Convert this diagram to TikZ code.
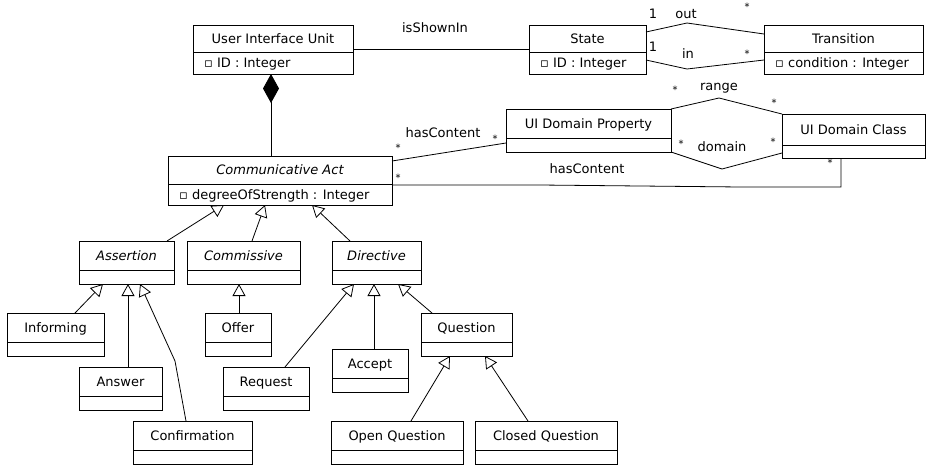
\documentclass[tikz,border=0pt]{standalone}
\usepackage{fontspec}
\setmainfont{DejaVu Sans}
\usetikzlibrary{arrows.meta}
\tikzset{
  line/.style={line width=0.8pt, draw=black},
  classbox/.style={line, rectangle, inner sep=0pt, outer sep=0pt, fill=white},
  ctitle/.style={inner sep=0pt, anchor=base, font=\fontsize{13}{15}\selectfont},
  cattr/.style={inner sep=0pt, anchor=base west, font=\fontsize{13}{15}\selectfont},
  lbl/.style={inner sep=0pt, font=\fontsize{13}{15}\selectfont, text height=9.5pt, text depth=0pt},
  mult/.style={inner sep=0pt, font=\fontsize{10}{12}\selectfont, yshift=-2pt},
  gen/.style={line, -{Triangle[open, length=12pt, width=13pt]}},
  assoc/.style={line},
  comp/.style={line, {Diamond[length=29pt, width=16pt]}-},
}
\newcommand\umlclass[7]{% name, left, top, right, bottom, divider, title
  \node[classbox, minimum width={#4-#2}, minimum height={#5-#3}, anchor=north west] (#1) at (#2,-#3) {};
  \draw[line] (#2,-#6) -- (#4,-#6);
  \node[ctitle] (#1-name) at ({(#2+#4)/2},{-(#3+#6)/2-4.5}) {#7};
}
\begin{document}
\begin{tikzpicture}[x=1pt, y=1pt]
\useasboundingbox (0,0) rectangle (930,-467);
% classes
\umlclass{uiu}{193}{25}{353}{74}{52}{User Interface Unit}
\umlclass{state}{529}{25}{646}{74}{52}{State}
\umlclass{trans}{764}{25}{923}{74}{52}{Transition}
\umlclass{ca}{168}{156}{392}{205}{184}{\itshape Communicative Act}
\umlclass{uidp}{506}{109}{671}{152}{138}{UI Domain Property}
\umlclass{uidc}{782}{114}{925}{158}{145}{UI Domain Class}
\umlclass{assertion}{79}{241}{174}{284}{270}{\itshape Assertion}
\umlclass{commissive}{187}{241}{300}{284}{270}{\itshape Commissive}
\umlclass{directive}{332}{241}{421}{284}{270}{\itshape Directive}
\umlclass{informing}{7}{313}{104}{356}{342}{Informing}
\umlclass{offer}{205}{313}{271}{356}{342}{Offer}
\umlclass{question}{421}{313}{512}{356}{342}{Question}
\umlclass{accept}{332}{349}{408}{392}{378}{Accept}
\umlclass{answer}{79}{367}{162}{410}{396}{Answer}
\umlclass{request}{223}{367}{309}{410}{396}{Request}
\umlclass{confirmation}{133}{421}{252}{464}{450}{Confirmation}
\umlclass{openq}{331}{421}{463}{464}{450}{Open Question}
\umlclass{closedq}{475}{421}{617}{464}{450}{Closed Question}
% attributes
\node[cattr] (uiu-attr) at (204,-67.5) {▫ ID : Integer};
\node[cattr] (state-attr) at (540,-67.5) {▫ ID : Integer};
\node[cattr] (trans-attr) at (775,-67.5) {▫ condition : Integer};
\node[cattr] (ca-attr) at (179,-199) {▫ degreeOfStrength : Integer};
% composition
\draw[comp] ([xshift=78pt]uiu.south west) -- ([xshift=103pt]ca.north west);
% associations
\draw[assoc] (uiu.east) -- (state.west);
\draw[assoc] ([yshift=-7pt]state.north east) -- (687,-23) -- ([yshift=-9pt]trans.north west);
\draw[assoc] ([yshift=-35pt]state.north east) -- (687,-69) -- ([yshift=-35pt]trans.north west);
\draw[assoc] ([yshift=-5pt]ca.north east) -- ([yshift=-34pt]uidp.north west);
\draw[assoc] ([yshift=-29pt]ca.north east) -- (540,-185) -- (741,-187) -- (841,-187) -- ([xshift=59pt]uidc.south west);
\draw[assoc] (uidp.north east) -- (719,-98) -- (uidc.north west);
\draw[assoc] (uidp.south east) -- (722,-169) -- ([yshift=5pt]uidc.south west);
% association labels
\node[lbl] (l-shown) at (435,-28) {isShownIn};
\node[lbl] (m-out1) at (653,-14) {1};
\node[lbl] (l-out) at (686,-14) {out};
\node[mult] (m-out2) at (747,-5) {*};
\node[lbl] (m-in1) at (653,-47) {1};
\node[lbl] (l-in) at (688,-54) {in};
\node[mult] (m-in2) at (747,-52) {*};
\node[lbl] (l-hc1) at (443,-133) {hasContent};
\node[mult] (m-hc1a) at (398,-146) {*};
\node[mult] (m-hc1b) at (495,-137) {*};
\node[lbl] (l-hc2) at (587,-169) {hasContent};
\node[mult] (m-hc2a) at (398,-176) {*};
\node[mult] (m-hc2b) at (830,-161) {*};
\node[lbl] (l-range) at (719,-86) {range};
\node[mult] (m-ra) at (675,-88) {*};
\node[mult] (m-rb) at (774,-101) {*};
\node[lbl] (l-domain) at (722,-147) {domain};
\node[mult] (m-da) at (681,-142) {*};
\node[mult] (m-db) at (773,-140) {*};
% generalizations
\draw[gen] ([xshift=88pt]assertion.north west) -- ([xshift=56pt]ca.south west);
\draw[gen] ([xshift=65pt]commissive.north west) -- ([xshift=97pt]ca.south west);
\draw[gen] ([xshift=18pt]directive.north west) -- ([xshift=144pt]ca.south west);
\draw[gen] ([xshift=68pt]informing.north west) -- ([xshift=24pt]assertion.south west);
\draw[gen] ([xshift=49pt]answer.north west) -- ([xshift=49pt]assertion.south west);
\draw[gen] ([xshift=53pt]confirmation.north west) -- (175,-361) -- ([xshift=61pt]assertion.south west);
\draw[gen] ([xshift=34pt]offer.north west) -- ([xshift=52pt]commissive.south west);
\draw[gen] ([xshift=62pt]request.north west) -- ([xshift=22pt]directive.south west);
\draw[gen] ([xshift=42pt]accept.north west) -- ([xshift=42pt]directive.south west);
\draw[gen] ([xshift=11pt]question.north west) -- ([xshift=66pt]directive.south west);
\draw[gen] ([xshift=80pt]openq.north west) -- ([xshift=29pt]question.south west);
\draw[gen] ([xshift=53pt]closedq.north west) -- ([xshift=64pt]question.south west);
\end{tikzpicture}
\end{document}
